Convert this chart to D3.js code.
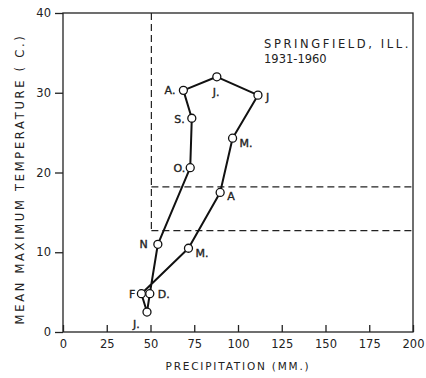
<!DOCTYPE html>
<html>
<head>
<meta charset="utf-8">
<script src="https://cdn.jsdelivr.net/npm/d3@7"></script>
<style>
  html, body { margin: 0; padding: 0; background: #fff; }
  svg { display: block; }
  text { font-family: "DejaVu Sans", sans-serif; fill: #222; }
</style>
</head>
<body>
<svg id="chart" width="426" height="378"></svg>
<script>
// ---- data ----
const monthLabels = ["J.", "F", "M.", "A", "M.", "J", "J.", "A.", "S.", "O.", "N", "D."];
const precipitation = [48, 44.8, 71.7, 89.8, 96.9, 111.4, 87.9, 68.8, 73.6, 72.7, 54.2, 49.6];
const temperature = [2.5, 4.8, 10.5, 17.5, 24.3, 29.7, 32, 30.3, 26.8, 20.6, 11, 4.8];
const xTicks = [0, 25, 50, 75, 100, 125, 150, 175, 200];
const yTicks = [0, 10, 20, 30, 40];
const thresholdPrecip = 50.5;
const thresholdTempHigh = 18.2;
const thresholdTempLow = 12.7;
const titleLines = ["SPRINGFIELD, ILL.", "1931-1960"];

// ---- layout ----
const svg = d3.select("#chart");
const x = d3.scaleLinear().domain([0, 200]).range([63, 413]);
const y = d3.scaleLinear().domain([0, 40]).range([332, 13]);
const ink = "#222";

// label placement relative to each point: [dx, dy, anchor]
const labelPos = [
  [-14, 16, "start"], [-6, 4, "end"], [7, 9, "start"], [7, 8, "start"],
  [7, 9, "start"], [8, 6, "start"], [-4, 19, "start"], [-8, 4, "end"],
  [-7, 5, "end"], [-5, 4, "end"], [-10, 4, "end"], [8, 4, "start"]
];

// frame
svg.append("rect")
  .attr("x", x(0)).attr("y", y(40))
  .attr("width", x(200) - x(0)).attr("height", y(0) - y(40))
  .attr("fill", "none").attr("stroke", ink).attr("stroke-width", 1.3);

// axes
const xAxis = svg.append("g").attr("transform", `translate(0,${y(0)})`)
  .call(d3.axisBottom(x).tickValues(xTicks).tickSize(-7).tickPadding(8).tickFormat(d3.format("d")));
xAxis.select(".domain").remove();
xAxis.selectAll(".tick line").attr("stroke", ink).attr("stroke-width", 1.3);
xAxis.selectAll(".tick text").attr("font-size", 11.5).attr("fill", ink)
  .attr("font-family", "DejaVu Sans");

const yAxis = svg.append("g").attr("transform", `translate(${x(0)},0)`)
  .call(d3.axisLeft(y).tickValues(yTicks).tickSize(8).tickPadding(4).tickFormat(d3.format("d")));
yAxis.select(".domain").remove();
yAxis.selectAll(".tick line").attr("stroke", ink).attr("stroke-width", 1.3);
yAxis.selectAll(".tick text").attr("font-size", 11.5).attr("fill", ink)
  .attr("font-family", "DejaVu Sans");

// dashed threshold lines
const dash = "7,4";
svg.append("line")
  .attr("x1", x(thresholdPrecip)).attr("x2", x(thresholdPrecip))
  .attr("y1", y(40)).attr("y2", y(thresholdTempLow))
  .attr("stroke", ink).attr("stroke-width", 1.2).attr("stroke-dasharray", dash);
[thresholdTempHigh, thresholdTempLow].forEach(t => {
  svg.append("line")
    .attr("x1", x(thresholdPrecip)).attr("x2", x(200))
    .attr("y1", y(t)).attr("y2", y(t))
    .attr("stroke", ink).attr("stroke-width", 1.2).attr("stroke-dasharray", dash);
});

// climograph loop
const pts = precipitation.map((p, i) => ({ p, t: temperature[i], label: monthLabels[i], i }));
const line = d3.line().x(d => x(d.p)).y(d => y(d.t)).curve(d3.curveLinearClosed);
svg.append("path").datum(pts).attr("d", line)
  .attr("fill", "none").attr("stroke", "#111").attr("stroke-width", 2).attr("stroke-linejoin", "round");

svg.selectAll("circle.pt").data(pts).join("circle")
  .attr("class", "pt")
  .attr("cx", d => x(d.p)).attr("cy", d => y(d.t)).attr("r", 4)
  .attr("fill", "#fff").attr("stroke", "#111").attr("stroke-width", 1.3);

svg.selectAll("text.lbl").data(pts).join("text")
  .attr("class", "lbl")
  .attr("x", d => x(d.p) + labelPos[d.i][0])
  .attr("y", d => y(d.t) + labelPos[d.i][1])
  .attr("text-anchor", d => labelPos[d.i][2])
  .attr("font-size", 11)
  .attr("stroke", "#222").attr("stroke-width", 0.35)
  .text(d => d.label);

// title
svg.selectAll("text.title").data(titleLines).join("text")
  .attr("class", "title")
  .attr("x", 264).attr("y", (d, i) => 48 + i * 15)
  .attr("font-size", 11.5).attr("letter-spacing", (d, i) => i === 0 ? 2.6 : 0)
  .text(d => d);

// axis titles
svg.append("text")
  .attr("x", 238).attr("y", 370).attr("text-anchor", "middle")
  .attr("font-size", 10.5).attr("letter-spacing", 1.8)
  .text("PRECIPITATION (MM.)");

svg.append("text")
  .attr("transform", "translate(24,179) rotate(-90)")
  .attr("text-anchor", "middle")
  .attr("font-size", 11.5).attr("letter-spacing", 2.7)
  .text("MEAN MAXIMUM TEMPERATURE ( C.)");
</script>
</body>
</html>
